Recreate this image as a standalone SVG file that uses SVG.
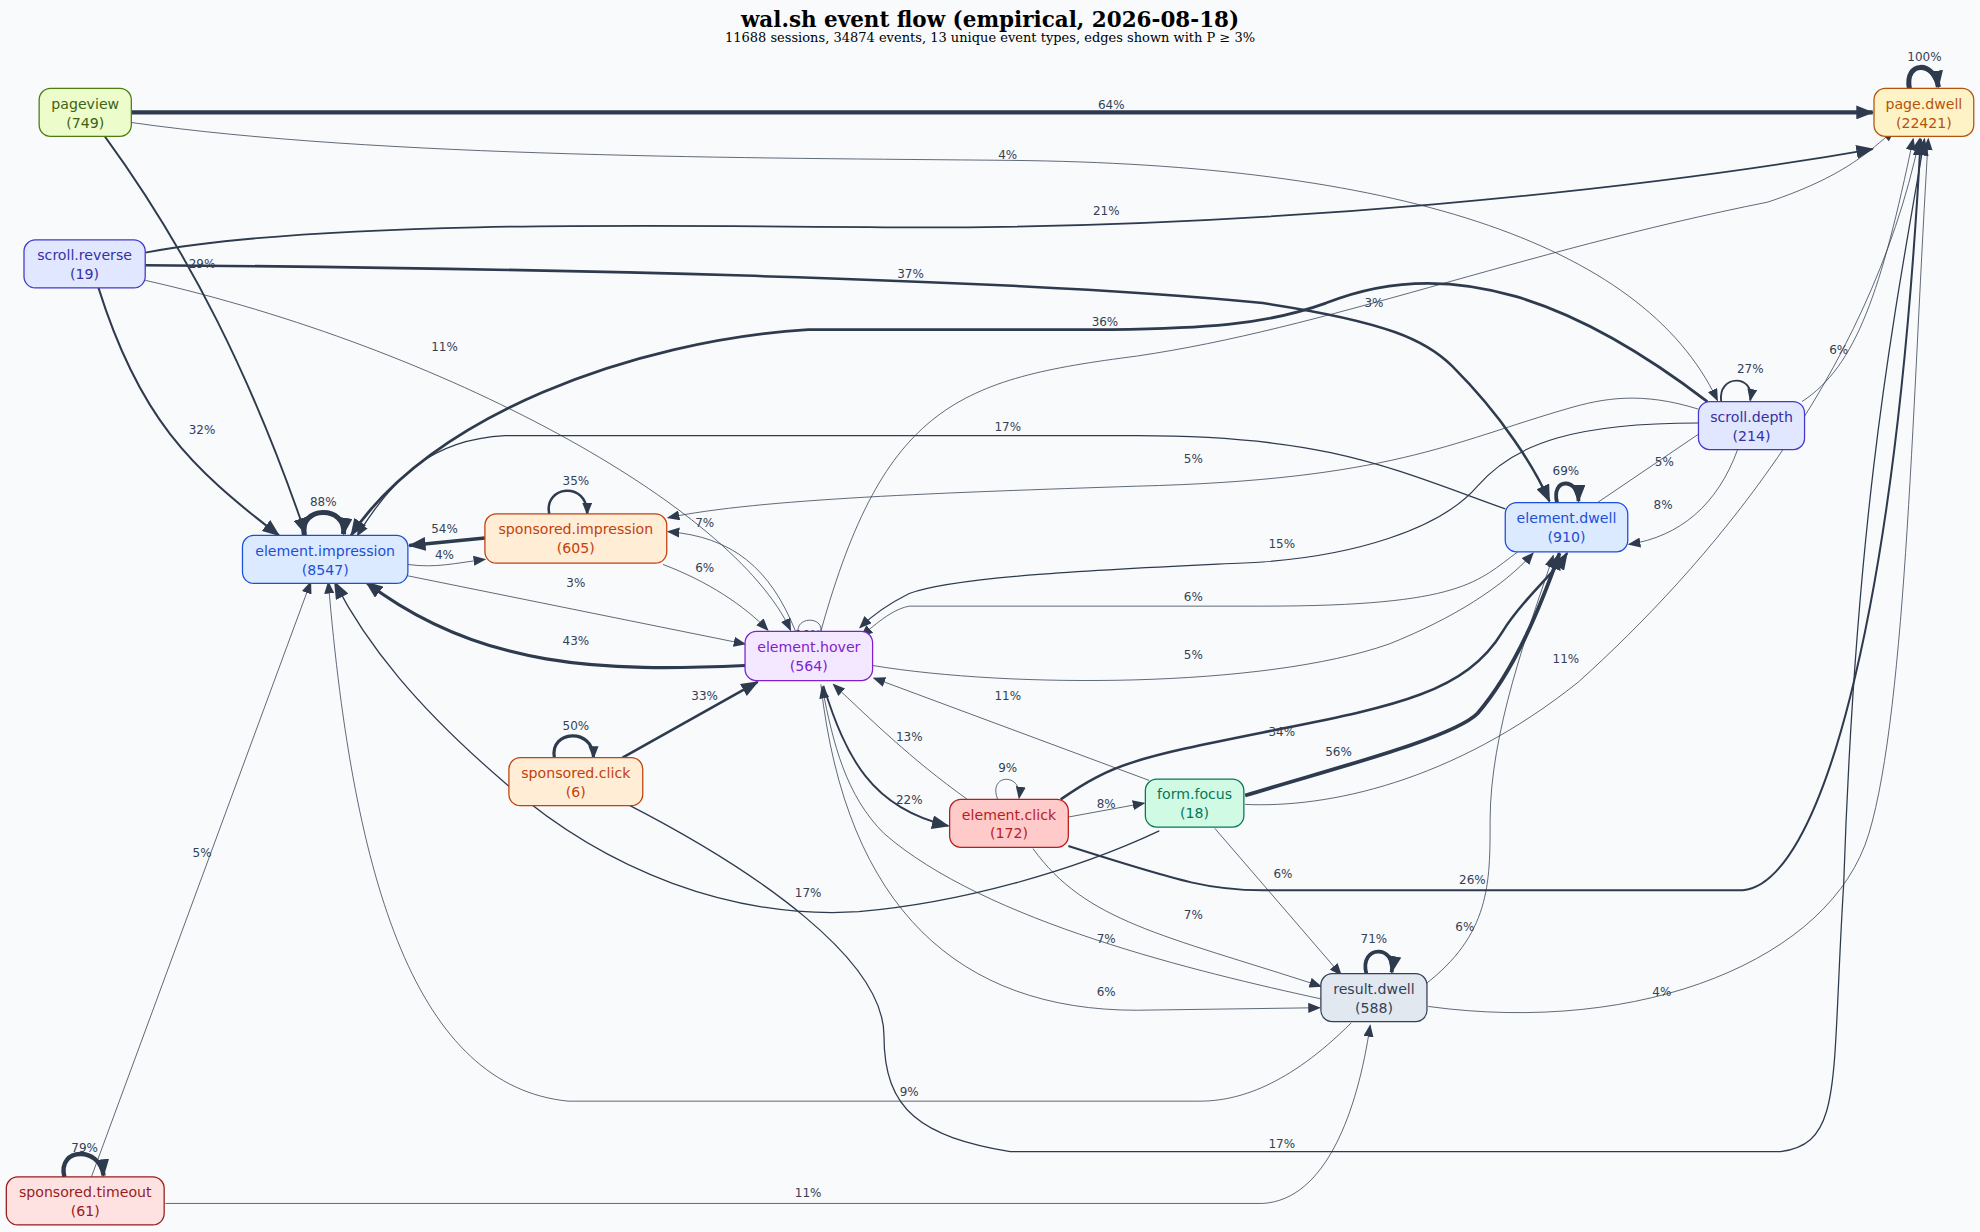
<svg xmlns="http://www.w3.org/2000/svg" width="1980" height="1232" viewBox="0 0 1980 1232">
<defs>
<marker id="a" markerUnits="userSpaceOnUse" markerWidth="10" markerHeight="8" refX="9" refY="4" orient="auto"><path d="M0,0 L10,4 L0,8 z" fill="#2e3a4d"/></marker>
<marker id="b" markerUnits="userSpaceOnUse" markerWidth="14" markerHeight="11" refX="13" refY="5.5" orient="auto"><path d="M0,0 L14,5.5 L0,11 z" fill="#2e3a4d"/></marker>
<style>
.e{fill:none;stroke:#2e3a4d}
.l{font-family:"DejaVu Sans",sans-serif;font-size:9.5px;fill:#334155;text-anchor:middle}
.n{font-family:"DejaVu Sans",sans-serif;font-size:11.2px;text-anchor:middle}
.t{font-family:"DejaVu Serif","Liberation Serif",serif;text-anchor:middle}
</style>
</defs>
<rect width="1980" height="1232" fill="#f8fafc"/>
<g transform="scale(1.2628)">
<text class="t" x="784" y="21" font-size="17" font-weight="bold">wal.sh event flow (empirical, 2026-08-18)</text>
<text class="t" x="784" y="33" font-size="10.3">11688 sessions, 34874 events, 13 unique event types, edges shown with P ≥ 3%</text>
<g id="edges">
<path class="e" stroke-width="3.5" marker-end="url(#b)" d="M104,89 L1483,89"/>
<path class="e" stroke-width="4" marker-end="url(#b)" d="M1512,70 C1508,48 1532,48 1535,69"/>
<path class="e" stroke-width="0.6" marker-end="url(#a)" d="M104,97 C300,125 600,125 800,127 C1100,130 1300,190 1360,317"/>
<path class="e" stroke-width="1.4" marker-end="url(#b)" d="M115,200 C250,175 500,178 700,180 C1000,182 1300,150 1483,118"/>
<path class="e" stroke-width="1.5" marker-end="url(#b)" d="M83,108 C150,200 200,300 242,423"/>
<path class="e" stroke-width="2" marker-end="url(#b)" d="M115,210 C400,212 800,220 1000,240 C1100,255 1130,270 1150,290 C1190,330 1215,370 1227,397"/>
<path class="e" stroke-width="1.6" marker-end="url(#b)" d="M78,228 C110,330 150,370 221,424"/>
<path class="e" stroke-width="0.6" marker-end="url(#a)" d="M115,222 C350,275 580,400 626,499"/>
<path class="e" stroke-width="2.2" marker-end="url(#b)" d="M1352,318 C1250,240 1150,200 1050,240 C1000,258 950,260 880,261 L640,261 C500,270 340,330 278,424"/>
<path class="e" stroke-width="0.6" marker-end="url(#a)" d="M650,500 C700,320 760,300 900,282 C1050,260 1200,200 1400,160 C1460,140 1480,120 1500,103"/>
<path class="e" stroke-width="0.6" marker-end="url(#a)" d="M1427,318 C1470,290 1490,230 1515,110"/>
<path class="e" stroke-width="1.5" marker-end="url(#a)" d="M1363,318 C1360,296 1390,296 1386,317"/>
<path class="e" stroke-width="1" marker-end="url(#a)" d="M1192,403 C1100,370 1050,345 900,345 L400,345 C340,348 310,380 283,424"/>
<path class="e" stroke-width="0.6" marker-end="url(#a)" d="M1345,324 C1300,310 1270,315 1240,324 C1150,350 1100,380 900,385 C750,390 600,395 529,410"/>
<path class="e" stroke-width="0.9" marker-end="url(#a)" d="M1345,335 C1250,335 1200,350 1170,385 C1140,420 1070,440 1000,445 C900,450 760,455 720,470 C700,480 690,488 681,497"/>
<path class="e" stroke-width="3" marker-end="url(#b)" d="M1233,398 C1228,378 1250,378 1250,397"/>
<path class="e" stroke-width="0.6" marker-end="url(#a)" d="M1265,398 L1358,335"/>
<path class="e" stroke-width="0.6" marker-end="url(#a)" d="M1376,356 C1360,400 1330,425 1290,431"/>
<path class="e" stroke-width="0.6" marker-end="url(#a)" d="M1202,437 C1170,460 1160,480 1000,480 L720,480 C710,482 700,488 682,504"/>
<path class="e" stroke-width="0.6" marker-end="url(#a)" d="M691,527 C800,545 1000,545 1100,510 C1150,490 1190,465 1214,438"/>
<path class="e" stroke-width="4" marker-end="url(#b)" d="M241,424 C236,400 275,400 272,423"/>
<path class="e" stroke-width="2.8" marker-end="url(#b)" d="M384,426 L324,432"/>
<path class="e" stroke-width="0.6" marker-end="url(#a)" d="M323,447 C345,450 360,446 384,443"/>
<path class="e" stroke-width="2" marker-end="url(#a)" d="M435,407 C430,385 465,380 465,407"/>
<path class="e" stroke-width="0.6" marker-end="url(#a)" d="M323,456 L590,510"/>
<path class="e" stroke-width="0.6" marker-end="url(#a)" d="M525,447 C560,460 590,480 608,499"/>
<path class="e" stroke-width="0.6" marker-end="url(#a)" d="M630,500 C610,450 580,425 529,421"/>
<path class="e" stroke-width="0.6" d="M632,501 C630,488 652,488 650,500"/>
<path class="e" stroke-width="2.5" marker-end="url(#b)" d="M590,527 C480,532 380,530 290,461"/>
<path class="e" stroke-width="2.5" marker-end="url(#a)" d="M439,600 C435,578 470,576 470,600"/>
<path class="e" stroke-width="2" marker-end="url(#b)" d="M493,600 L600,540"/>
<path class="e" stroke-width="0.6" marker-end="url(#a)" d="M910,618 L692,537"/>
<path class="e" stroke-width="0.6" marker-end="url(#a)" d="M766,633 C720,600 690,570 660,542"/>
<path class="e" stroke-width="1.5" marker-end="url(#b)" d="M652,543 C670,600 690,640 751,654"/>
<path class="e" stroke-width="0.6" marker-end="url(#a)" d="M790,633 C782,612 810,612 807,632"/>
<path class="e" stroke-width="2" marker-end="url(#b)" d="M840,633 C880,605 900,600 1000,580 C1100,560 1160,550 1190,500 C1205,475 1230,455 1241,438"/>
<path class="e" stroke-width="3" marker-end="url(#b)" d="M986,630 C1050,610 1150,585 1170,565 C1200,530 1220,480 1235,438"/>
<path class="e" stroke-width="0.6" marker-end="url(#a)" d="M986,637 C1050,640 1150,620 1250,540 C1350,450 1480,300 1520,110"/>
<path class="e" stroke-width="0.6" marker-end="url(#a)" d="M846,647 L906,636"/>
<path class="e" stroke-width="1.6" marker-end="url(#b)" d="M846,670 C940,700 960,705 1000,705 L1380,705 C1440,700 1500,500 1521,110"/>
<path class="e" stroke-width="1" marker-end="url(#b)" d="M918,658 C850,690 760,715 680,722 C580,728 480,690 400,620 C330,560 290,510 265,461"/>
<path class="e" stroke-width="0.6" marker-end="url(#a)" d="M818,672 C860,730 920,740 1046,781"/>
<path class="e" stroke-width="0.6" marker-end="url(#a)" d="M962,656 L1062,772"/>
<path class="e" stroke-width="0.6" marker-end="url(#a)" d="M1046,791 C950,770 780,730 700,660 C670,630 660,590 651,544"/>
<path class="e" stroke-width="0.6" marker-end="url(#a)" d="M650,542 C670,720 760,800 900,800 L1045,798"/>
<path class="e" stroke-width="3" marker-end="url(#b)" d="M1082,771 C1076,748 1106,748 1102,770"/>
<path class="e" stroke-width="0.6" marker-end="url(#a)" d="M1070,810 C1020,860 980,872 950,872 L450,872 C330,860 280,700 260,461"/>
<path class="e" stroke-width="0.6" marker-end="url(#a)" d="M72,933 L246,461"/>
<path class="e" stroke-width="3.5" marker-end="url(#b)" d="M51,932 C45,908 80,908 82,931"/>
<path class="e" stroke-width="0.6" marker-end="url(#a)" d="M131,953 L1000,953 C1050,950 1075,880 1085,812"/>
<path class="e" stroke-width="1" marker-end="url(#b)" d="M497,637 C600,690 700,760 700,820 C700,880 730,900 800,912 L1410,912 C1460,905 1450,860 1460,700 C1470,400 1500,250 1524,110"/>
<path class="e" stroke-width="0.6" marker-end="url(#a)" d="M1128,780 C1180,740 1180,700 1180,650 C1180,580 1210,500 1230,440"/>
<path class="e" stroke-width="0.6" marker-end="url(#a)" d="M1131,797 C1300,820 1450,760 1480,660 C1510,560 1515,300 1527,110"/>
</g>
<g id="labels">
<text class="l" x="880" y="86">64%</text>
<text class="l" x="1524" y="48">100%</text>
<text class="l" x="798" y="126">4%</text>
<text class="l" x="876" y="170">21%</text>
<text class="l" x="160" y="212">29%</text>
<text class="l" x="721" y="220">37%</text>
<text class="l" x="160" y="344">32%</text>
<text class="l" x="352" y="278">11%</text>
<text class="l" x="875" y="258">36%</text>
<text class="l" x="1088" y="243">3%</text>
<text class="l" x="1456" y="280">6%</text>
<text class="l" x="1386" y="295">27%</text>
<text class="l" x="798" y="341">17%</text>
<text class="l" x="945" y="367">5%</text>
<text class="l" x="1015" y="434">15%</text>
<text class="l" x="1240" y="376">69%</text>
<text class="l" x="1318" y="369">5%</text>
<text class="l" x="1317" y="403">8%</text>
<text class="l" x="945" y="476">6%</text>
<text class="l" x="945" y="522">5%</text>
<text class="l" x="256" y="401">88%</text>
<text class="l" x="352" y="422">54%</text>
<text class="l" x="352" y="443">4%</text>
<text class="l" x="456" y="384">35%</text>
<text class="l" x="456" y="465">3%</text>
<text class="l" x="558" y="453">6%</text>
<text class="l" x="558" y="417">7%</text>
<text class="l" x="640" y="506">10%</text>
<text class="l" x="456" y="511">43%</text>
<text class="l" x="456" y="578">50%</text>
<text class="l" x="558" y="554">33%</text>
<text class="l" x="798" y="554">11%</text>
<text class="l" x="720" y="587">13%</text>
<text class="l" x="720" y="637">22%</text>
<text class="l" x="798" y="611">9%</text>
<text class="l" x="1015" y="583">34%</text>
<text class="l" x="1060" y="599">56%</text>
<text class="l" x="1240" y="525">11%</text>
<text class="l" x="876" y="640">8%</text>
<text class="l" x="1166" y="700">26%</text>
<text class="l" x="640" y="710">17%</text>
<text class="l" x="945" y="728">7%</text>
<text class="l" x="1016" y="695">6%</text>
<text class="l" x="876" y="747">7%</text>
<text class="l" x="876" y="789">6%</text>
<text class="l" x="1088" y="747">71%</text>
<text class="l" x="720" y="868">9%</text>
<text class="l" x="160" y="679">5%</text>
<text class="l" x="67" y="912">79%</text>
<text class="l" x="640" y="948">11%</text>
<text class="l" x="1015" y="909">17%</text>
<text class="l" x="1160" y="737">6%</text>
<text class="l" x="1316" y="789">4%</text>
</g>
<g id="pageview"><rect x="31" y="70" width="73" height="38" rx="9" fill="#ecfccb" stroke="#4d7c0f"/><text class="n" x="67.5" y="86" fill="#3f6212">pageview</text><text class="n" x="67.5" y="101" fill="#3f6212">(749)</text></g>
<g id="scroll.reverse"><rect x="19" y="190" width="96" height="38" rx="9" fill="#e0e7ff" stroke="#4338ca"/><text class="n" x="67" y="206" fill="#3730a3">scroll.reverse</text><text class="n" x="67" y="221" fill="#3730a3">(19)</text></g>
<g id="element.impression"><rect x="192" y="424" width="131" height="38" rx="9" fill="#dbeafe" stroke="#1d4ed8"/><text class="n" x="257.5" y="440" fill="#1d4ed8">element.impression</text><text class="n" x="257.5" y="455" fill="#1d4ed8">(8547)</text></g>
<g id="sponsored.impression"><rect x="384" y="407" width="144" height="39" rx="9" fill="#ffedd5" stroke="#c2410c"/><text class="n" x="456" y="423" fill="#c2410c">sponsored.impression</text><text class="n" x="456" y="438" fill="#c2410c">(605)</text></g>
<g id="element.hover"><rect x="590" y="500" width="101" height="39" rx="9" fill="#f3e8ff" stroke="#7e22ce"/><text class="n" x="640.5" y="516" fill="#7e22ce">element.hover</text><text class="n" x="640.5" y="531" fill="#7e22ce">(564)</text></g>
<g id="sponsored.click"><rect x="403" y="600" width="106" height="38" rx="9" fill="#ffedd5" stroke="#c2410c"/><text class="n" x="456" y="616" fill="#c2410c">sponsored.click</text><text class="n" x="456" y="631" fill="#c2410c">(6)</text></g>
<g id="sponsored.timeout"><rect x="5" y="932" width="125" height="38" rx="9" fill="#fee2e2" stroke="#991b1b"/><text class="n" x="67.5" y="948" fill="#991b1b">sponsored.timeout</text><text class="n" x="67.5" y="963" fill="#991b1b">(61)</text></g>
<g id="element.click"><rect x="752" y="633" width="94" height="38" rx="9" fill="#fecaca" stroke="#b91c1c"/><text class="n" x="799" y="649" fill="#b91c1c">element.click</text><text class="n" x="799" y="664" fill="#b91c1c">(172)</text></g>
<g id="form.focus"><rect x="907" y="617" width="78" height="38" rx="9" fill="#d1fae5" stroke="#047857"/><text class="n" x="946" y="633" fill="#047857">form.focus</text><text class="n" x="946" y="648" fill="#047857">(18)</text></g>
<g id="result.dwell"><rect x="1046" y="771" width="84" height="38" rx="9" fill="#e2e8f0" stroke="#334155"/><text class="n" x="1088" y="787" fill="#334155">result.dwell</text><text class="n" x="1088" y="802" fill="#334155">(588)</text></g>
<g id="element.dwell"><rect x="1192" y="398" width="97" height="39" rx="9" fill="#dbeafe" stroke="#1d4ed8"/><text class="n" x="1240.5" y="414" fill="#1d4ed8">element.dwell</text><text class="n" x="1240.5" y="429" fill="#1d4ed8">(910)</text></g>
<g id="scroll.depth"><rect x="1345" y="318" width="84" height="38" rx="9" fill="#e0e7ff" stroke="#4338ca"/><text class="n" x="1387" y="334" fill="#3730a3">scroll.depth</text><text class="n" x="1387" y="349" fill="#3730a3">(214)</text></g>
<g id="page.dwell"><rect x="1484" y="70" width="79" height="38" rx="9" fill="#fef3c7" stroke="#b45309"/><text class="n" x="1523.5" y="86" fill="#b45309">page.dwell</text><text class="n" x="1523.5" y="101" fill="#b45309">(22421)</text></g>
</g>
</svg>
